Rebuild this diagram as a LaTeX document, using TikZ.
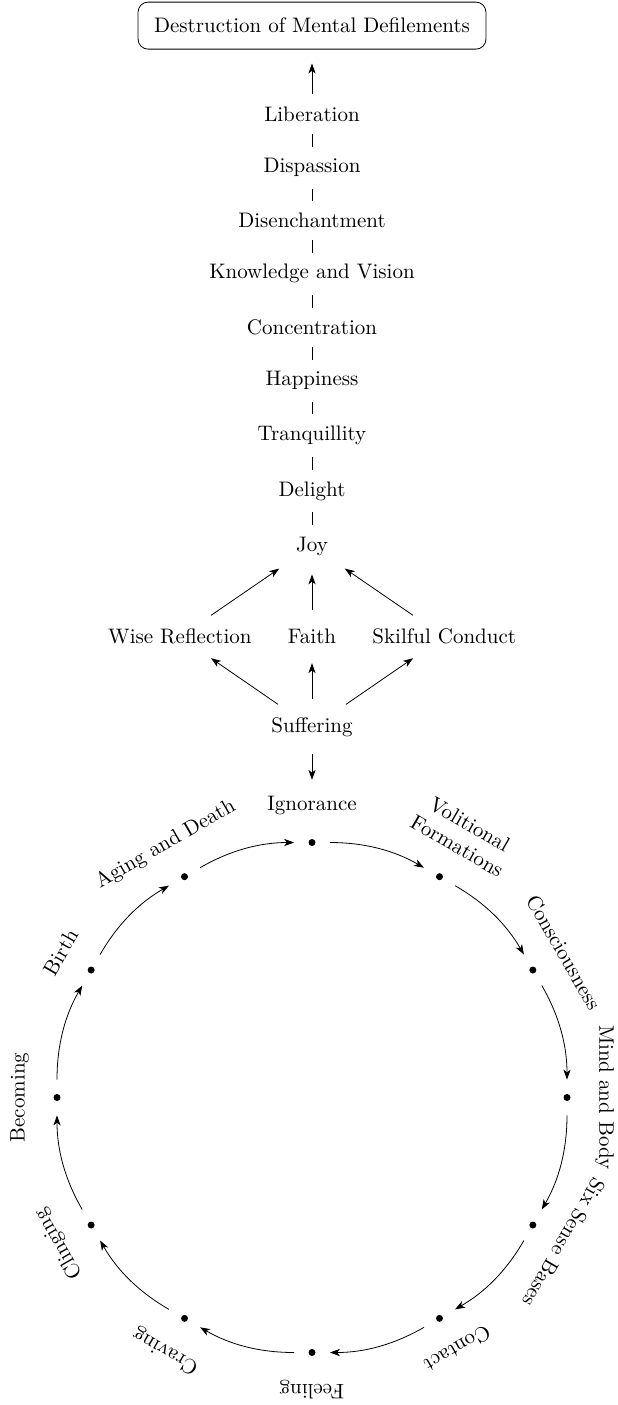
\documentclass[tikz,border=0pt]{standalone}
\usepackage{amsmath,amssymb}
\usetikzlibrary{positioning,arrows.meta}

\begin{document}
\begin{tikzpicture}[x=0.5pt, y=0.5pt,
    font=\fontsize{10.5}{12.6}\selectfont,
    node distance=11.2pt,
    >={Stealth[length=5pt,width=3.6pt,inset=1.4pt]},
    stage/.style={inner sep=3.3pt},
    goal/.style={draw, rounded corners=5pt, inner xsep=8pt, inner ysep=8pt},
    link/.style={shorten <=2.4pt, shorten >=2.4pt},
    flow/.style={->, shorten <=6pt, shorten >=6pt},
    spot/.style={circle, fill, inner sep=0pt, minimum size=3.5pt},
    rim/.style={inner sep=3.3pt, anchor=south, align=center},
    turn/.style={->, shorten <=7pt, shorten >=7pt}]
      \useasboundingbox (0,0) rectangle (617,-1405);

      \node[stage, anchor=base] (lib) at (312,-121.7) {Liberation};
      \node[goal, above=25.3pt of lib] (goal) {Destruction of Mental Defilements};
      \node[stage, below=of lib] (disp) {Dispassion};
      \node[stage, below=of disp] (disen) {Disenchantment};
      \node[stage, below=of disen] (know) {Knowledge and Vision};
      \node[stage, below=of know] (conc) {Concentration};
      \node[stage, below=of conc] (happ) {Happiness};
      \node[stage, below=of happ] (tranq) {Tranquillity};
      \node[stage, below=of tranq] (delight) {Delight};
      \node[stage, below=of delight] (joy) {Joy};

      \node[stage, below=30pt of joy] (faith) {Faith};
      \node[stage, left=of faith] (wise) {Wise Reflection};
      \node[stage, right=of faith] (skil) {Skilful Conduct};
      \node[stage, below=30pt of faith] (suff) {Suffering};

      \draw[->, shorten <=3pt, shorten >=7pt] (lib) -- (goal);
      \foreach \a/\b in {lib/disp, disp/disen, disen/know, know/conc,
                         conc/happ, happ/tranq, tranq/delight, delight/joy}
        \draw[link] (\a) -- (\b);
      \foreach \s in {wise, faith, skil}
      {
        \draw[flow] (\s) -- (joy);
        \draw[flow] (suff) -- (\s);
      }

      % the wheel
      \begin{scope}[shift={(312,-1097.5)}]
        \foreach \id/\ang/\txt in {ign/90/Ignorance, vol/60/{Volitional\\Formations},
            con/30/Consciousness, mind/0/Mind and Body, six/-30/Six Sense Bases,
            cont/-60/Contact, feel/-90/Feeling, crav/-120/Craving,
            cling/-150/Clinging, bec/-180/Becoming, birth/-210/Birth,
            age/-240/Aging and Death}
        {
          \node[spot] (\id) at (\ang:255) {};
          \node[rim, rotate=\ang-90] (\id-l) at (\ang:276) {\txt};
        }
      \end{scope}

      \draw[flow, shorten <=5pt, shorten >=4.5pt] (suff) -- (ign-l);
      \foreach \a/\b in {ign/vol, vol/con, con/mind, mind/six, six/cont, cont/feel,
                         feel/crav, crav/cling, cling/bec, bec/birth, birth/age, age/ign}
        \draw[turn] (\a) to[bend left=15] (\b);
    \end{tikzpicture}
\end{document}
